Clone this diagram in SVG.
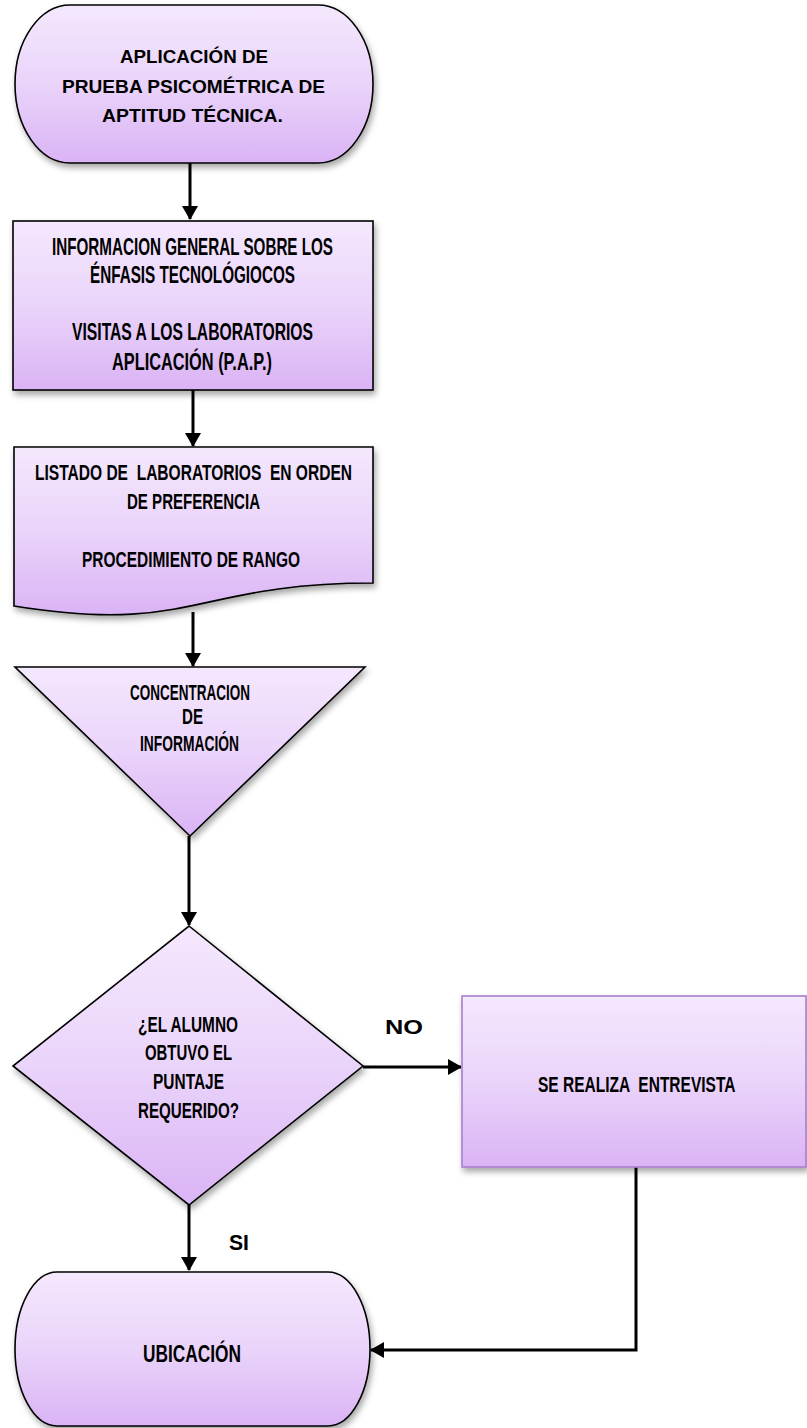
<svg xmlns="http://www.w3.org/2000/svg" width="807" height="1428" viewBox="0 0 807 1428">
<defs>
<linearGradient id="lilac" x1="0" y1="0" x2="0" y2="1">
<stop offset="0" stop-color="#f4e8fd"/>
<stop offset="0.5" stop-color="#ead4fa"/>
<stop offset="1" stop-color="#dab3f5"/>
</linearGradient>
<filter id="shadow" x="-10%" y="-10%" width="120%" height="125%">
<feDropShadow dx="2" dy="4" stdDeviation="3" flood-color="#000" flood-opacity="0.35"/>
</filter>
<marker id="arrow" viewBox="0 0 14 16" refX="13" refY="8" markerWidth="14" markerHeight="16" markerUnits="userSpaceOnUse" orient="auto">
<path d="M0,0 L14,8 L0,16 Z" fill="#000"/>
</marker>
</defs>
<style>
.shape{fill:url(#lilac);stroke:#000;stroke-width:1.6;filter:url(#shadow)}
.shape2{fill:url(#lilac);stroke:#a77fcc;stroke-width:1.6;filter:url(#shadow)}
.cal{font-family:"Liberation Sans",Arial,sans-serif;font-weight:bold;font-size:18px;fill:#000}
.agy{font-family:"Liberation Sans",Arial,sans-serif;font-weight:bold;font-size:22px;fill:#000}
.big{font-size:23px}
.conn{fill:none;stroke:#000;stroke-width:3}
</style>

<g id="connectors">
<path class="conn" d="M190,163 V219" marker-end="url(#arrow)"/>
<path class="conn" d="M193,390 V446" marker-end="url(#arrow)"/>
<path class="conn" d="M193,612 V666" marker-end="url(#arrow)"/>
<path class="conn" d="M189,836 V925" marker-end="url(#arrow)"/>
<path class="conn" d="M363,1067 H461" marker-end="url(#arrow)"/>
<path class="conn" d="M189,1205 V1270" marker-end="url(#arrow)"/>
<path class="conn" d="M636,1167 V1350 H371" marker-end="url(#arrow)"/>
<text class="cal" x="385" y="1034" textLength="38" lengthAdjust="spacingAndGlyphs" style="font-size:20px">NO</text>
<text class="agy" x="229" y="1250" textLength="20" lengthAdjust="spacingAndGlyphs">SI</text>
</g>

<g id="inicio">
<rect class="shape" x="15" y="5" width="358" height="158" rx="55" ry="79"/>
<text class="cal" x="120" y="63" textLength="148" lengthAdjust="spacingAndGlyphs">APLICACIÓN DE</text>
<text class="cal" x="62" y="93" textLength="263" lengthAdjust="spacingAndGlyphs">PRUEBA PSICOMÉTRICA DE</text>
<text class="cal" x="102" y="122" textLength="181" lengthAdjust="spacingAndGlyphs">APTITUD TÉCNICA.</text>
</g>

<g id="informacion">
<rect class="shape" x="13" y="221" width="360" height="169"/>
<text class="agy big" x="52" y="255" textLength="281" lengthAdjust="spacingAndGlyphs">INFORMACION GENERAL SOBRE LOS</text>
<text class="agy big" x="90" y="283" textLength="205" lengthAdjust="spacingAndGlyphs">ÉNFASIS TECNOLÓGIOCOS</text>
<text class="agy big" x="72" y="340" textLength="241" lengthAdjust="spacingAndGlyphs">VISITAS A LOS LABORATORIOS</text>
<text class="agy big" x="112" y="370" textLength="160" lengthAdjust="spacingAndGlyphs">APLICACIÓN (P.A.P.)</text>
</g>

<g id="listado">
<path class="shape" d="M14,447 H373 V583 C193.5,583 193.5,635 14,606 Z"/>
<text class="agy" x="35" y="480" textLength="317" lengthAdjust="spacingAndGlyphs" xml:space="preserve">LISTADO DE  LABORATORIOS  EN ORDEN</text>
<text class="agy" x="127" y="509" textLength="133" lengthAdjust="spacingAndGlyphs">DE PREFERENCIA</text>
<text class="agy" x="82" y="567" textLength="218" lengthAdjust="spacingAndGlyphs">PROCEDIMIENTO DE RANGO</text>
</g>

<g id="concentracion">
<path class="shape" d="M15,667 L365,667 L190,836 Z"/>
<text class="agy" x="130" y="700" textLength="120" lengthAdjust="spacingAndGlyphs">CONCENTRACION</text>
<text class="agy" x="182" y="724" textLength="21" lengthAdjust="spacingAndGlyphs">DE</text>
<text class="agy" x="140" y="751" textLength="99" lengthAdjust="spacingAndGlyphs">INFORMACIÓN</text>
</g>

<g id="decision">
<path class="shape" d="M189,926 L363,1066 L189,1205 L13,1066 Z"/>
<text class="agy" x="138" y="1032" textLength="100" lengthAdjust="spacingAndGlyphs">¿EL ALUMNO</text>
<text class="agy" x="145" y="1060" textLength="87" lengthAdjust="spacingAndGlyphs">OBTUVO EL</text>
<text class="agy" x="153" y="1089" textLength="71" lengthAdjust="spacingAndGlyphs">PUNTAJE</text>
<text class="agy" x="138" y="1118" textLength="101" lengthAdjust="spacingAndGlyphs">REQUERIDO?</text>
</g>

<g id="entrevista">
<rect class="shape2" x="462" y="996" width="344" height="171"/>
<text class="agy" x="0" y="0" transform="translate(538,1092) scale(0.706,1)" xml:space="preserve">SE REALIZA  ENTREVISTA</text>
</g>

<g id="ubicacion">
<rect class="shape" x="15" y="1272" width="355" height="154" rx="42" ry="77"/>
<text class="agy big" x="143" y="1362" textLength="98" lengthAdjust="spacingAndGlyphs">UBICACIÓN</text>
</g>
</svg>
